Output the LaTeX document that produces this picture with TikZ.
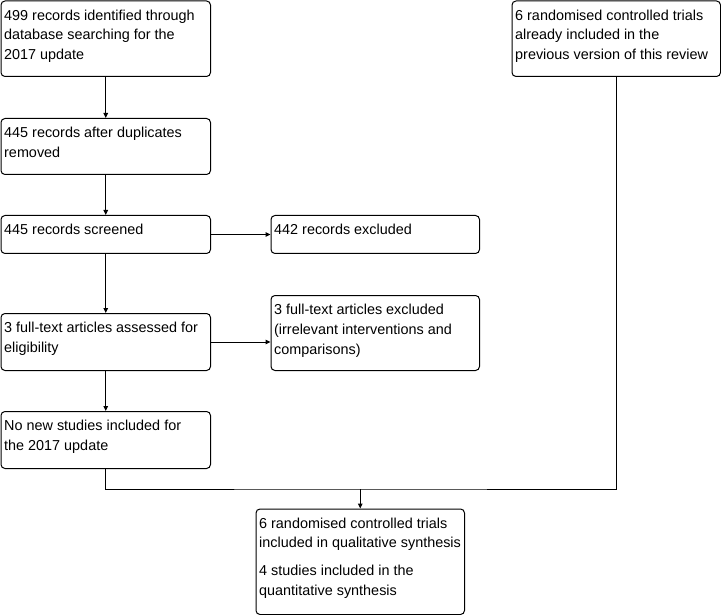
\documentclass[tikz,border=0pt]{standalone}
\usepackage{fontspec}
\setmainfont{Liberation Sans}
\usetikzlibrary{arrows.meta,calc}
\tikzset{
  box/.style={draw=black, line width=1pt, rounded corners=4pt, inner sep=0pt, fill=white},
  txt/.style={inner sep=0pt, align=left, font=\fontsize{14.4}{19.8}\selectfont},
  conn/.style={draw=black, line width=1pt},
  arr/.style={conn, -{Triangle[length=5pt,width=4.5pt]}},
}
\newcommand\flowbox[6]{%
  \node[box, anchor=north west, minimum width={#4-#2}, minimum height={#5-#3}] (#1) at (#2,#3) {};
  \node[txt, anchor=north west] (#1t) at (#2+3.5,#3+9) {#6};
}
\begin{document}
\begin{tikzpicture}[x=1pt,y=-1pt]
\useasboundingbox (0,0) rectangle (721,615);
\flowbox{b1}{0.5}{0.5}{210}{76}{499 records identified through\\database searching for the\\2017 update}
\flowbox{b6}{511.5}{0.5}{720}{76}{6 randomised controlled trials\\already included in the\\previous version of this review}
\flowbox{b2}{0.5}{118}{210}{174}{445 records after duplicates\\removed}
\flowbox{b3}{0.5}{215}{210}{253}{445 records screened}
\flowbox{e1}{270.5}{215}{479}{253}{442 records excluded}
\flowbox{b4}{0.5}{313}{210}{370}{3 full-text articles assessed for\\eligibility}
\flowbox{e2}{270.5}{295}{479}{370}{3 full-text articles excluded\\(irrelevant interventions and\\comparisons)}
\flowbox{b5}{0.5}{411}{210}{468}{No new studies included for\\the 2017 update}
\flowbox{f}{255.5}{508.5}{464}{614}{6 randomised controlled trials\\included in qualitative synthesis\\[8pt]4 studies included in the\\quantitative synthesis}
\draw[arr] (b1) -- (b2);
\draw[arr] (b2) -- (b3);
\draw[arr] (b3) -- (b4);
\draw[arr] (b4) -- (b5);
\draw[arr] (b3) -- (e1);
\draw[arr] (b4.east) -- (b4.east -| e2.west);
\coordinate (lvl) at (0,489);
\coordinate (jn) at (f.north |- lvl);
\draw[conn] (b5.south) |- (jn) -| (b6.south);
\draw[arr] (jn) -- (f.north);
\end{tikzpicture}
\end{document}
